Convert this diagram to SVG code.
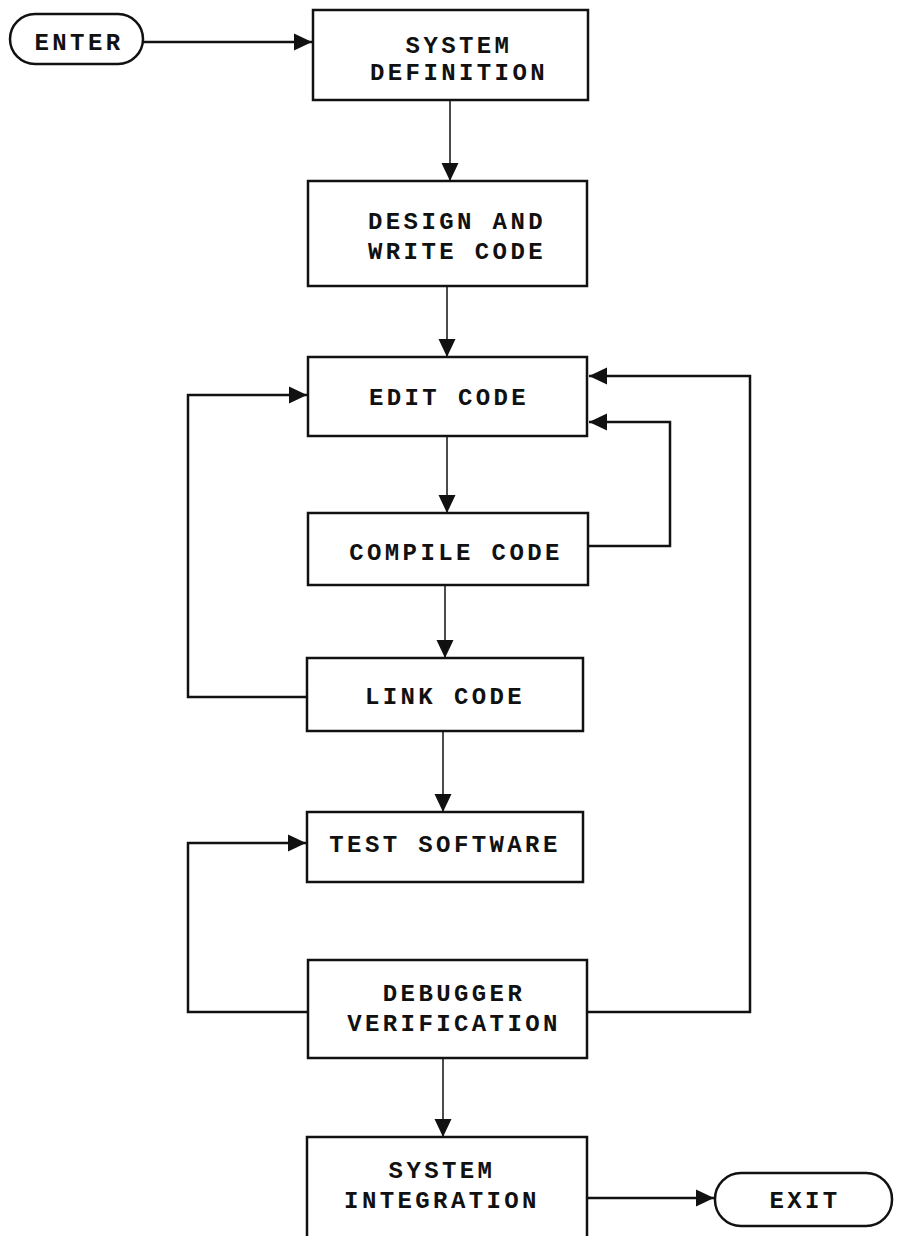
<svg xmlns="http://www.w3.org/2000/svg" width="897" height="1236" viewBox="0 0 897 1236">
<style>
.box{fill:#fff;stroke:#111;stroke-width:2.5}
.t{font-family:"Liberation Mono","Courier New",monospace;font-weight:bold;font-size:24px;letter-spacing:3.4px;fill:#111;text-anchor:middle}
.c{fill:none;stroke:#111;stroke-width:1.5}
.l{fill:none;stroke:#111;stroke-width:2.5}
</style>
<defs>
<marker id="ah" markerUnits="userSpaceOnUse" markerWidth="20" markerHeight="20" viewBox="0 0 20 20" refX="18" refY="10" orient="auto">
<path d="M0,1.5 L18,10 L0,18.5 Z" fill="#111"/>
</marker>
</defs>
<rect width="897" height="1236" fill="#fff"/>
<g id="connectors">
<path class="l" d="M143,42 H312" marker-end="url(#ah)"/>
<path class="c" d="M450,100 V181" marker-end="url(#ah)"/>
<path class="c" d="M447,286 V357" marker-end="url(#ah)"/>
<path class="c" d="M447,436 V513" marker-end="url(#ah)"/>
<path class="l" d="M588,546 H670 V422 H589" marker-end="url(#ah)"/>
<path class="c" d="M445,585 V658" marker-end="url(#ah)"/>
<path class="l" d="M307,697 H188 V395 H307" marker-end="url(#ah)"/>
<path class="c" d="M443,731 V812" marker-end="url(#ah)"/>
<path class="l" d="M308,1012 H188 V843 H306" marker-end="url(#ah)"/>
<path class="l" d="M587,1012 H750 V376 H589" marker-end="url(#ah)"/>
<path class="c" d="M443,1058 V1137" marker-end="url(#ah)"/>
<path class="l" d="M587,1198 H714" marker-end="url(#ah)"/>
</g>
<g id="enter">
<rect class="box" x="10" y="14" width="133" height="50" rx="25"/>
<text class="t" x="79" y="50">ENTER</text>
</g>
<g id="system-definition">
<rect class="box" x="313" y="10" width="275" height="90"/>
<text class="t" x="459" y="53">SYSTEM</text>
<text class="t" x="459" y="80">DEFINITION</text>
</g>
<g id="design-write-code">
<rect class="box" x="308" y="181" width="279" height="105"/>
<text class="t" x="457" y="229">DESIGN AND</text>
<text class="t" x="457" y="259">WRITE CODE</text>
</g>
<g id="edit-code">
<rect class="box" x="308" y="357" width="279" height="79"/>
<text class="t" x="449" y="405">EDIT CODE</text>
</g>
<g id="compile-code">
<rect class="box" x="308" y="513" width="280" height="72"/>
<text class="t" x="456" y="560">COMPILE CODE</text>
</g>
<g id="link-code">
<rect class="box" x="307" y="658" width="276" height="73"/>
<text class="t" x="445" y="704">LINK CODE</text>
</g>
<g id="test-software">
<rect class="box" x="307" y="812" width="276" height="70"/>
<text class="t" x="445" y="852">TEST SOFTWARE</text>
</g>
<g id="debugger-verification">
<rect class="box" x="308" y="960" width="279" height="98"/>
<text class="t" x="454" y="1001">DEBUGGER</text>
<text class="t" x="454" y="1031">VERIFICATION</text>
</g>
<g id="system-integration">
<path class="box" d="M307,1240 V1137 H587 V1240"/>
<text class="t" x="442" y="1178">SYSTEM</text>
<text class="t" x="442" y="1208">INTEGRATION</text>
</g>
<g id="exit">
<rect class="box" x="715" y="1173" width="177" height="53" rx="26"/>
<text class="t" x="805" y="1208">EXIT</text>
</g>
</svg>
